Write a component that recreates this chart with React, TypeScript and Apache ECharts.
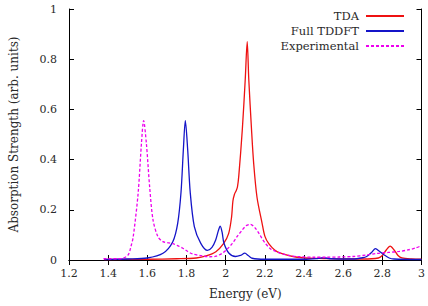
import React, { useEffect, useRef } from "react";
import * as echarts from "echarts";

// Excitation energies (eV) and absorption strengths for each spectrum
const tdaEnergy = [1.38, 1.6, 1.75, 1.85, 1.9, 1.95, 1.99, 2.015, 2.03, 2.037, 2.045, 2.053, 2.06, 2.067, 2.085, 2.1, 2.11, 2.118, 2.132, 2.143, 2.16, 2.186, 2.2, 2.22, 2.25, 2.28, 2.35, 2.43, 2.5, 2.6, 2.7, 2.78, 2.8, 2.82, 2.84, 2.86, 2.88, 2.9, 2.95, 3.0];
const tdaValues = [0.002, 0.003, 0.005, 0.008, 0.016, 0.033, 0.066, 0.105, 0.17, 0.235, 0.262, 0.275, 0.29, 0.335, 0.52, 0.72, 0.87, 0.72, 0.52, 0.385, 0.25, 0.146, 0.095, 0.065, 0.04, 0.027, 0.013, 0.007, 0.006, 0.004, 0.004, 0.008, 0.018, 0.04, 0.055, 0.04, 0.018, 0.008, 0.004, 0.003];

const tddftEnergy = [1.38, 1.5, 1.6, 1.68, 1.73, 1.755, 1.772, 1.784, 1.794, 1.806, 1.819, 1.84, 1.873, 1.907, 1.93, 1.949, 1.962, 1.972, 1.982, 1.991, 2.017, 2.05, 2.075, 2.098, 2.115, 2.135, 2.2, 2.4, 2.47, 2.5, 2.53, 2.65, 2.7, 2.72, 2.745, 2.765, 2.785, 2.81, 2.835, 2.86, 3.0];
const tddftValues = [0.002, 0.004, 0.008, 0.027, 0.073, 0.146, 0.27, 0.44, 0.555, 0.44, 0.27, 0.133, 0.066, 0.038, 0.05, 0.08, 0.115, 0.135, 0.11, 0.068, 0.027, 0.014, 0.018, 0.027, 0.018, 0.007, 0.003, 0.003, 0.006, 0.009, 0.005, 0.004, 0.009, 0.014, 0.03, 0.045, 0.035, 0.02, 0.008, 0.004, 0.002];

const expEnergy = [1.376, 1.45, 1.477, 1.502, 1.515, 1.528, 1.553, 1.57, 1.581, 1.595, 1.612, 1.629, 1.654, 1.68, 1.71, 1.73, 1.755, 1.781, 1.806, 1.831, 1.882, 1.92, 1.95, 1.983, 2.01, 2.034, 2.06, 2.085, 2.105, 2.127, 2.15, 2.17, 2.19, 2.203, 2.228, 2.25, 2.28, 2.33, 2.38, 2.45, 2.515, 2.58, 2.65, 2.72, 2.768, 2.83, 2.886, 2.93, 2.97, 3.0];
const expValues = [0.005, 0.005, 0.007, 0.02, 0.05, 0.093, 0.266, 0.465, 0.555, 0.465, 0.29, 0.16, 0.093, 0.073, 0.068, 0.065, 0.057, 0.047, 0.034, 0.024, 0.016, 0.013, 0.015, 0.027, 0.045, 0.066, 0.095, 0.12, 0.137, 0.142, 0.128, 0.106, 0.08, 0.066, 0.045, 0.036, 0.027, 0.017, 0.013, 0.011, 0.011, 0.012, 0.014, 0.02, 0.026, 0.03, 0.034, 0.04, 0.048, 0.057];

const seriesNames = ["TDA", "Full TDDFT", "Experimental"];

const FONT = "DejaVu Serif";
const TEXT = "#2a2a2a";

const pairs = (xs: number[], ys: number[]) => xs.map((x, i) => [x, ys[i]]);
const fmt = (v: number) => String(parseFloat(v.toFixed(1)));

export default function App() {
  const ref = useRef<HTMLDivElement>(null);

  useEffect(() => {
    if (!ref.current) return;
    const chart = echarts.init(ref.current, undefined, { renderer: "svg" });

    const frame = { show: true, lineStyle: { color: "#000", width: 1 } };
    const tick = { show: true, inside: true, length: 5, lineStyle: { color: "#000" } };
    const nameStyle = { fontFamily: FONT, fontSize: 12, color: TEXT };
    const tickLabel = { fontFamily: FONT, fontSize: 11, color: TEXT };

    const line = (name: string, data: number[][], color: string, dashed: boolean) => ({
      name,
      type: "line",
      data,
      symbol: "none",
      smooth: 0.3,
      clip: true,
      lineStyle: { color, width: 1.3, type: dashed ? [3, 2] : "solid" },
      itemStyle: { color },
    });

    chart.setOption({
      animation: false,
      backgroundColor: "#fff",
      textStyle: { fontFamily: FONT, color: TEXT },
      grid: { left: 67, right: 5, top: 9, bottom: 46 },
      legend: {
        data: seriesNames,
        orient: "vertical",
        align: "right",
        right: 23,
        top: 10,
        padding: 0,
        itemWidth: 38,
        itemHeight: 12,
        itemGap: 3,
        itemStyle: { opacity: 0 },
        textStyle: { fontFamily: FONT, fontSize: 11.5, color: TEXT, padding: [0, 2, 0, 0] },
      },
      xAxis: [
        {
          type: "value",
          min: 1.2,
          max: 3,
          interval: 0.2,
          name: "Energy (eV)",
          nameLocation: "middle",
          nameGap: 28,
          nameTextStyle: nameStyle,
          axisLine: frame,
          axisTick: tick,
          splitLine: { show: false },
          axisLabel: { ...tickLabel, margin: 8, formatter: fmt },
        },
        {
          type: "value",
          position: "top",
          min: 1.2,
          max: 3,
          interval: 0.2,
          axisLine: frame,
          axisTick: tick,
          splitLine: { show: false },
          axisLabel: { show: false },
        },
      ],
      yAxis: [
        {
          type: "value",
          min: 0,
          max: 1,
          interval: 0.2,
          name: "Absorption Strength (arb. units)",
          nameLocation: "middle",
          nameGap: 49,
          nameTextStyle: nameStyle,
          axisLine: frame,
          axisTick: tick,
          splitLine: { show: false },
          axisLabel: { ...tickLabel, margin: 12, formatter: fmt },
        },
        {
          type: "value",
          position: "right",
          min: 0,
          max: 1,
          interval: 0.2,
          axisLine: frame,
          axisTick: tick,
          splitLine: { show: false },
          axisLabel: { show: false },
        },
      ],
      series: [
        line(seriesNames[0], pairs(tdaEnergy, tdaValues), "#ee1111", false),
        line(seriesNames[1], pairs(tddftEnergy, tddftValues), "#1414c8", false),
        line(seriesNames[2], pairs(expEnergy, expValues), "#ee00ee", true),
      ],
    });

    return () => chart.dispose();
  }, []);

  return (
    <div
      ref={ref}
      style={{ position: "absolute", left: 0, top: 0, width: 428, height: 306 }}
    />
  );
}
